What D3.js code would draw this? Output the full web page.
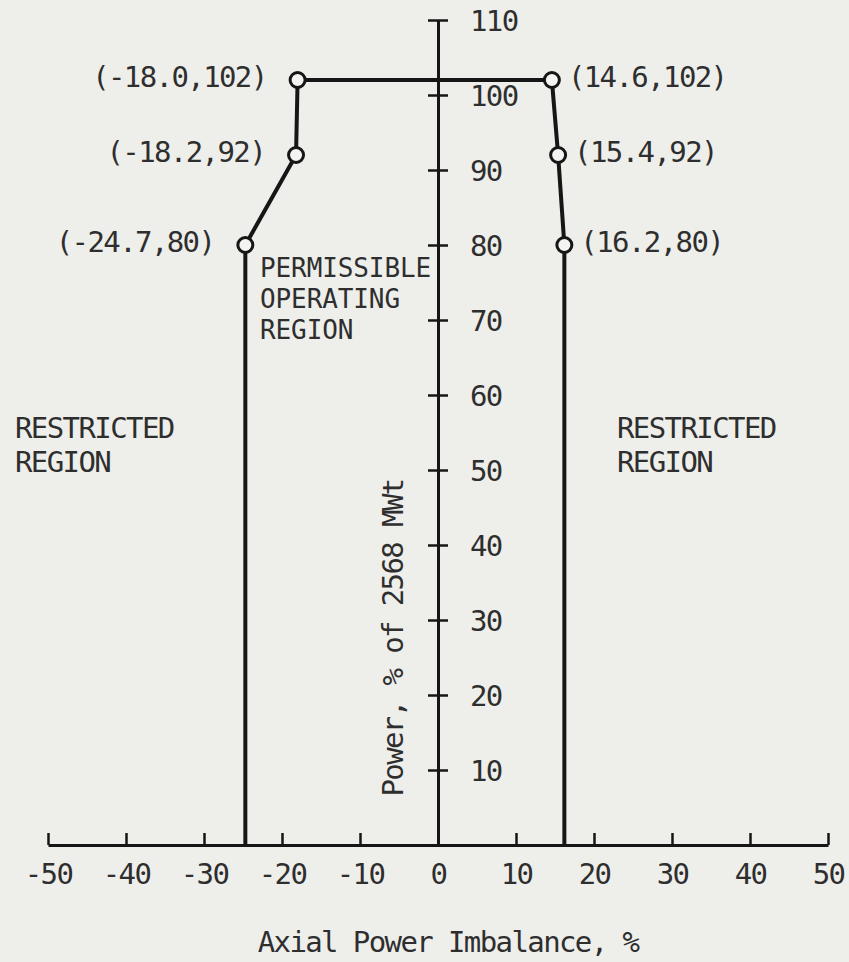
<!DOCTYPE html>
<html>
<head>
<meta charset="utf-8">
<script src="https://cdn.jsdelivr.net/npm/d3@7"></script>
<style>
  html, body { margin: 0; padding: 0; background: #eeeeeb; }
  svg { display: block; }
  text { font-family: "DejaVu Sans Mono", "Liberation Mono", monospace; font-size: 29px; letter-spacing: -1.6px; fill: #2e2e2e; }
  text.tight { font-size: 26px; letter-spacing: -0.1px; }
</style>
</head>
<body>
<svg id="chart" width="849" height="962"></svg>
<script>
// Operating limit envelope: axial power imbalance (%) vs. power (% of 2568 MWt)
const imbalance = [-24.7, -24.7, -18.2, -18.0, 14.6, 15.4, 16.2, 16.2];
const power     = [0,     80,    92,    102,   102,  92,   80,   0];

// Axis ticks
const xTicks = [-50, -40, -30, -20, -10, 0, 10, 20, 30, 40, 50];
const yTicks = [10, 20, 30, 40, 50, 60, 70, 80, 90, 100, 110];

// Text
const xTitle = "Axial Power Imbalance, %";
const yTitle = "Power, % of 2568 MWt";
const leftRegion = ["RESTRICTED", "REGION"];
const rightRegion = ["RESTRICTED", "REGION"];
const insideRegion = ["PERMISSIBLE", "OPERATING", "REGION"];

const svg = d3.select("#chart");
const ink = "#161616";
const plain = d => String(d); // typed hyphen-minus, as on the original sheet

const x = d3.scaleLinear().domain([-50, 50]).range([48, 828]);
const y = d3.scaleLinear().domain([0, 110]).range([845, 20]);

// X axis along the bottom, ticks pointing up
const gx = svg.append("g")
  .attr("transform", `translate(0,${y(0)})`)
  .call(d3.axisBottom(x).tickValues(xTicks).tickSizeInner(-12).tickSizeOuter(0).tickPadding(18).tickFormat(plain));
gx.select(".domain").attr("stroke", ink).attr("stroke-width", 3);
gx.selectAll(".tick line").attr("stroke", ink).attr("stroke-width", 2.5);
gx.selectAll(".tick text").attr("font-size", null).attr("font-family", null).attr("fill", null);

// Y axis through zero imbalance, cross ticks, labels on the right
const gy = svg.append("g")
  .attr("transform", `translate(${x(0)},0)`)
  .call(d3.axisRight(y).tickValues(yTicks).tickSizeInner(10).tickSizeOuter(0).tickPadding(22).tickFormat(plain));
gy.select(".domain").attr("stroke", ink).attr("stroke-width", 3);
gy.selectAll(".tick line").attr("x1", -10).attr("stroke", ink).attr("stroke-width", 2.5);
gy.selectAll(".tick text").attr("dy", "0.36em").attr("font-size", null).attr("font-family", null).attr("fill", null);

// Envelope boundary
const pts = imbalance.map((v, i) => [v, power[i]]);
svg.append("path")
  .datum(pts)
  .attr("fill", "none")
  .attr("stroke", ink)
  .attr("stroke-width", 4)
  .attr("stroke-linejoin", "round")
  .attr("d", d3.line().x(d => x(d[0])).y(d => y(d[1])));

// Breakpoint markers and their coordinate labels
const breakpoints = pts.filter(d => d[1] > 0);
svg.append("g").selectAll("circle")
  .data(breakpoints)
  .join("circle")
  .attr("cx", d => x(d[0]))
  .attr("cy", d => y(d[1]))
  .attr("r", 7.5)
  .attr("fill", "#f4f4f2")
  .attr("stroke", ink)
  .attr("stroke-width", 3);

svg.append("g").selectAll("text")
  .data(breakpoints)
  .join("text")
  .attr("x", d => d[0] < 0 ? x(d[0]) - 31 : x(d[0]) + 16)
  .attr("y", d => y(d[1]) + 7)
  .attr("text-anchor", d => d[0] < 0 ? "end" : "start")
  .text(d => `(${d[0].toFixed(1)},${d[1]})`);

// Region annotations
function block(lines, x0, y0, lh, cls) {
  svg.append("g").selectAll("text")
    .data(lines)
    .join("text")
    .attr("class", cls || null)
    .attr("x", x0)
    .attr("y", (d, i) => y0 + i * lh)
    .text(d => d);
}
block(leftRegion, 15, 438, 34);
block(rightRegion, 617, 438, 34);
block(insideRegion, 260, 277, 31, "tight");

// Axis titles
svg.append("text")
  .attr("x", 448)
  .attr("y", 952)
  .attr("text-anchor", "middle")
  .text(xTitle);

svg.append("text")
  .attr("transform", `translate(403,638) rotate(-90)`)
  .attr("text-anchor", "middle")
  .text(yTitle);
</script>
</body>
</html>
